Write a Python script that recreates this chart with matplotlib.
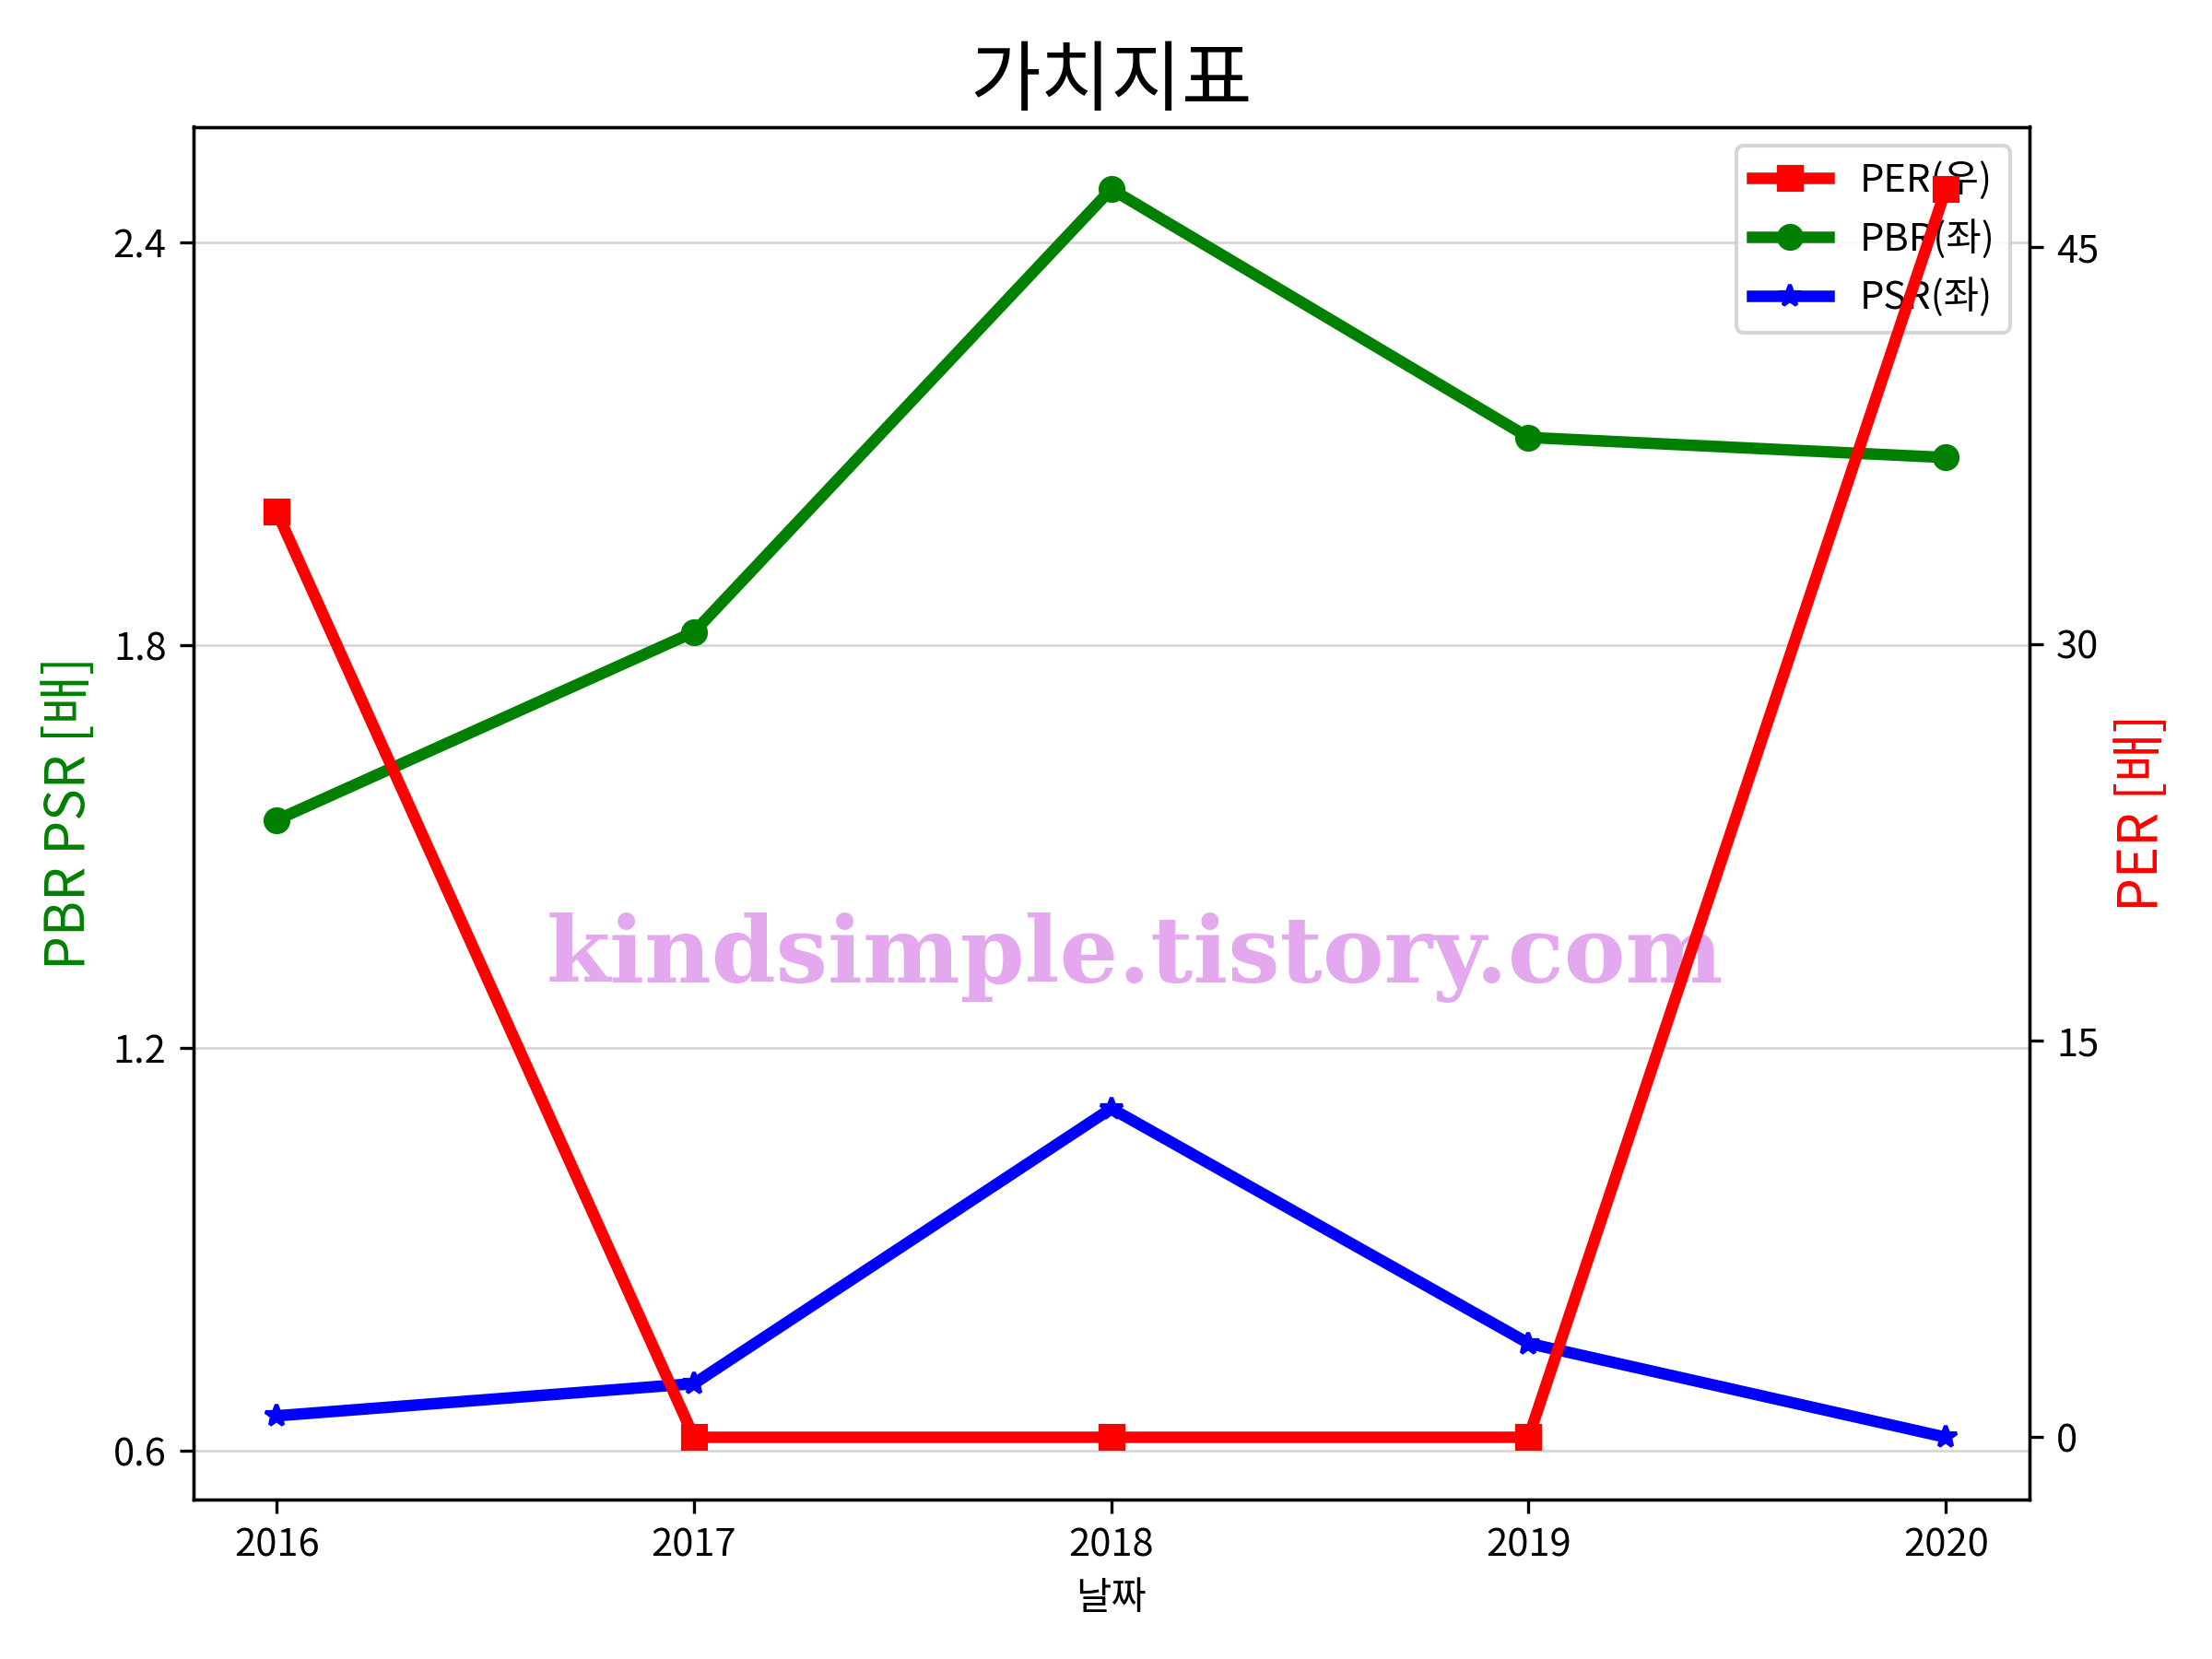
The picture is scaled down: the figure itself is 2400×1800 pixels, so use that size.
import matplotlib
matplotlib.use('Agg')
import matplotlib.pyplot as plt

plt.rcParams['font.family'] = ['Noto Sans CJK KR', 'DejaVu Sans']
plt.rcParams['axes.unicode_minus'] = False

# 데이터
years = [2016, 2017, 2018, 2019, 2020]
per = [35.0, 0.0, 0.0, 0.0, 47.2]
pbr = [1.54, 1.82, 2.48, 2.11, 2.08]
psr = [0.652, 0.70, 1.11, 0.76, 0.62]

left_ticks = [0.6, 1.2, 1.8, 2.4]
right_ticks = [0, 15, 30, 45]

fig, ax = plt.subplots(figsize=(8, 6), dpi=300)
ax2 = ax.twinx()

l1, = ax2.plot(years, per, color='red', marker='s', lw=3, label='PER(우)')
l2, = ax.plot(years, pbr, color='green', marker='o', lw=3, label='PBR(좌)')
l3, = ax.plot(years, psr, color='blue', marker='*', lw=3, label='PSR(좌)')

ax.set_xticks(years)
ax.set_yticks(left_ticks)
ax2.set_yticks(right_ticks)
ax.grid(axis='y', color='lightgray', lw=0.6)

ax.set_title('가치지표', fontsize=20)
ax.set_xlabel('날짜')
ax.set_ylabel('PBR PSR [배]', color='green', fontsize=14)
ax2.set_ylabel('PER [배]', color='red', fontsize=14)

ax.legend([l1, l2, l3], [l.get_label() for l in [l1, l2, l3]], loc='upper right')

ax.text(0.513, 0.395, 'kindsimple.tistory.com', transform=ax.transAxes,
        ha='center', va='center', fontsize=24, fontweight='bold',
        family='DejaVu Serif', color='#E3A8EE')

plt.tight_layout()
plt.savefig('out.png')
